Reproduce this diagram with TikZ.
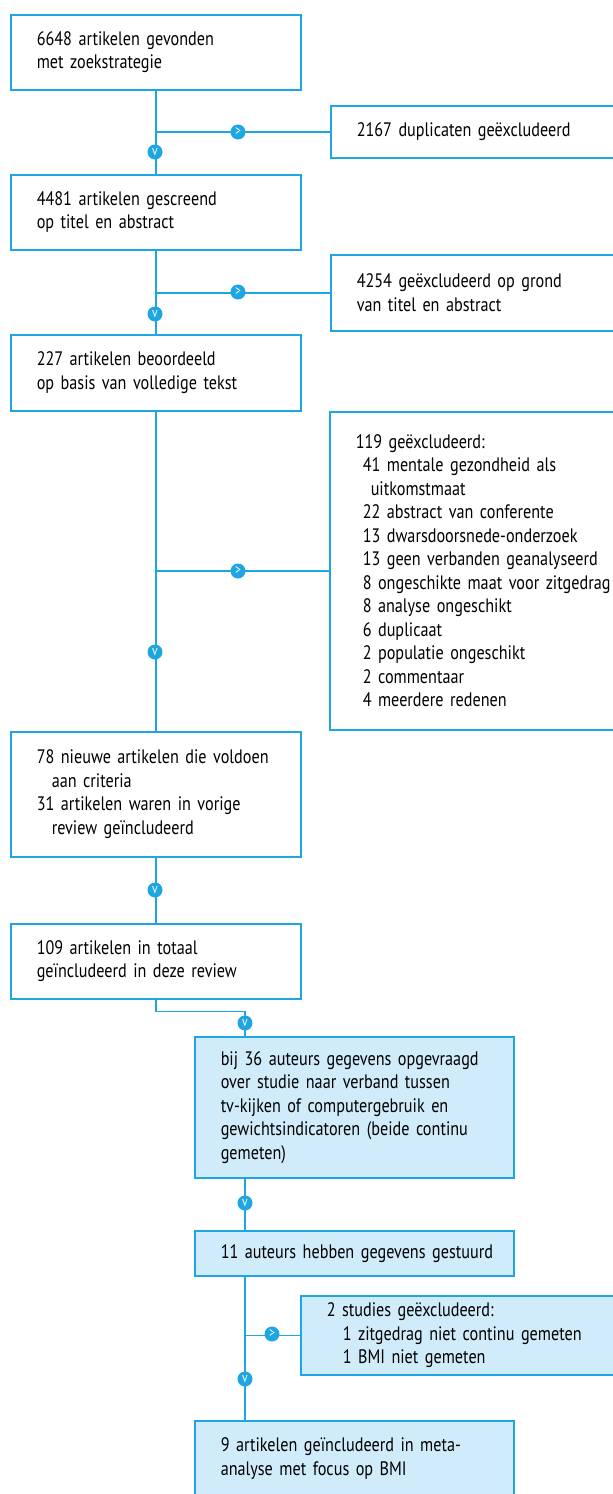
\documentclass[tikz,border=0pt]{standalone}
\usepackage{fontspec}
\setmainfont{PT Sans}[FakeStretch=0.83]
\usepackage{tikz}
\definecolor{flowblue}{RGB}{30,166,226}
\definecolor{flowfill}{RGB}{208,236,250}

\begin{document}
\begin{tikzpicture}[x=1pt, y=-1pt,
    txt/.style={font=\fontsize{19.5}{23.5}\selectfont, align=left, inner ysep=0pt, inner xsep=26pt},
    mainbox/.style={txt, draw=flowblue, line width=1.5pt, anchor=north west, minimum width=290pt, text width=238pt},
    exclbox/.style={txt, draw=flowblue, line width=1.5pt, anchor=north west, text width=262pt},
    bluebox/.style={txt, draw=flowblue, fill=flowfill, line width=1.5pt, anchor=north west, minimum width=319pt, text width=267pt},
    flow/.style={draw=flowblue, line width=1.5pt},
    pijl/.style={circle, fill=flowblue, text=white, inner sep=0pt, minimum size=15pt, font=\fontsize{14}{14}\selectfont}]
\useasboundingbox (0,0) rectangle (613,1494);
                \node[mainbox, minimum height=75pt] (b1) at (10,14) {6648 artikelen gevonden\\met zoekstrategie};
                \node[exclbox, minimum height=52pt] (x1) at (330,105) {2167 duplicaten geëxcludeerd};
                \node[mainbox, minimum height=75pt] (b2) at (10,174) {4481 artikelen gescreend\\op titel en abstract};
                \node[exclbox, minimum height=76pt] (x2) at (330,254) {4254 geëxcludeerd op grond\\van titel en abstract};
                \node[mainbox, minimum height=76pt] (b3) at (10,334) {227 artikelen beoordeeld\\op basis van volledige tekst};
                \node[exclbox, minimum height=318pt] (x3) at (329,411) {119 geëxcludeerd:\\
                    \hspace*{7pt}41 mentale gezondheid als\\
                    \hspace*{15pt}uitkomstmaat\\
                    \hspace*{7pt}22 abstract van conferente\\
                    \hspace*{7pt}13 dwarsdoorsnede-onderzoek\\
                    \hspace*{7pt}13 geen verbanden geanalyseerd\\
                    \hspace*{7pt}8 ongeschikte maat voor zitgedrag\\
                    \hspace*{7pt}8 analyse ongeschikt\\
                    \hspace*{7pt}6 duplicaat\\
                    \hspace*{7pt}2 populatie ongeschikt\\
                    \hspace*{7pt}2 commentaar\\
                    \hspace*{7pt}4 meerdere redenen};
                \node[mainbox, minimum height=125pt] (b4) at (10,731) {78 nieuwe artikelen die voldoen\\\hspace*{15pt}aan criteria\\31 artikelen waren in vorige\\\hspace*{15pt}review geïncludeerd};
                \node[mainbox, minimum height=75pt] (b5) at (10,923) {109 artikelen in totaal\\geïncludeerd in deze review};
                \node[bluebox, minimum height=141pt] (b6) at (194,1036) {bij 36 auteurs gegevens opgevraagd\\over studie naar verband tussen\\tv-kijken of computergebruik en\\gewichtsindicatoren (beide continu\\gemeten)};
                \node[bluebox, minimum height=45pt] (b7) at (194,1230) {\mbox{11 auteurs hebben gegevens gestuurd}};
                \node[exclbox, fill=flowfill, minimum height=79pt] (x4) at (300,1295) {2 studies geëxcludeerd:\\\hspace*{16pt}1 zitgedrag niet continu gemeten\\\hspace*{16pt}1 BMI niet gemeten};
                \node[bluebox, minimum height=76pt] (b8) at (194,1420) {9 artikelen geïncludeerd in meta-\\analyse met focus op BMI};
                \coordinate (j3) at (0,571);
                \coordinate (c6) at (245,1036);
                \draw[flow] (b1.south) -- (b2.north);
                \draw[flow] (b1.south |- x1.west) -- (x1.west);
                \draw[flow] (b2.south) -- (b3.north);
                \draw[flow] (b2.south |- x2.west) -- (x2.west);
                \draw[flow] (b3.south) -- (b4.north);
                \draw[flow] (b3.south |- j3) -- (x3.west |- j3);
                \draw[flow] (b4.south) -- (b5.north);
                \draw[flow] (b5.south) -- ++(0,12) -| (c6);
                \draw[flow] (c6 |- b6.south) -- (c6 |- b7.north);
                \draw[flow] (c6 |- b7.south) -- (c6 |- b8.north);
                \draw[flow] (c6 |- x4.west) -- (x4.west);
                \node[pijl] (r1) at (238,132) {>};
                \node[pijl] (v1) at (155,152) {v};
                \node[pijl] (r2) at (238,292) {>};
                \node[pijl] (v2) at (155,314) {v};
                \node[pijl] (r3) at (238,571) {>};
                \node[pijl] (v3) at (155,652) {v};
                \node[pijl] (v4) at (155,890) {v};
                \node[pijl] (v5) at (245,1023) {v};
                \node[pijl] (v6) at (245,1203) {v};
                \node[pijl] (r7) at (272,1334) {>};
                \node[pijl] (v7) at (245,1379) {v};
            \end{tikzpicture}
\end{document}
